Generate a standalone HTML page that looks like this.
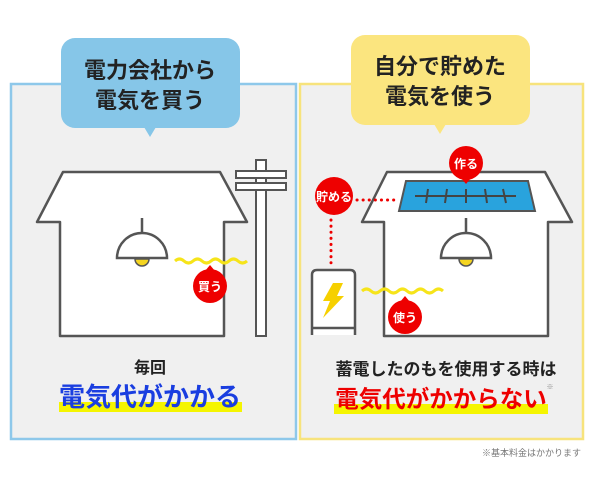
<!DOCTYPE html>
<html><head><meta charset="utf-8"><style>
body{margin:0;width:602px;height:475px;background:#fff;overflow:hidden;font-family:"Liberation Sans","Noto Sans CJK JP",sans-serif}
</style></head><body>
<svg width="602" height="475" viewBox="0 0 602 475" xmlns="http://www.w3.org/2000/svg" font-family="Liberation Sans, Noto Sans CJK JP, sans-serif">
<rect x="11" y="84" width="285" height="355" fill="#f0f0f0" stroke="#8ec8ea" stroke-width="2.5"/>
<rect x="300" y="84" width="283" height="355" fill="#f0f0f0" stroke="#f7e37c" stroke-width="2.5"/>
<rect x="61" y="38" width="179" height="90" rx="14" fill="#86c6e8"/>
<polygon points="144,127 156,127 150,137" fill="#86c6e8"/>
<text x="150" y="78" font-size="22" text-anchor="middle" fill="#222" font-weight="bold">電力会社から</text>
<text x="150" y="108" font-size="22" text-anchor="middle" fill="#222" font-weight="bold">電気を買う</text>
<rect x="351" y="35" width="179" height="90" rx="14" fill="#fbe57f"/>
<polygon points="434,124 446,124 440,134" fill="#fbe57f"/>
<text x="440" y="74" font-size="22" text-anchor="middle" fill="#222" font-weight="bold">自分で貯めた</text>
<text x="440" y="104" font-size="22" text-anchor="middle" fill="#222" font-weight="bold">電気を使う</text>
<path d="M60,336 V222 H37 L63,172 H220 L247,222 H224 V336 Z" fill="#fff" stroke="#555" stroke-width="2.5" stroke-linejoin="round"/>
<rect x="256" y="160" width="10" height="176" fill="#fff" stroke="#555" stroke-width="2"/>
<rect x="236" y="171" width="50" height="7" fill="#fff" stroke="#555" stroke-width="2"/>
<rect x="236" y="183" width="50" height="7" fill="#fff" stroke="#555" stroke-width="2"/>
<line x1="142" y1="218" x2="142" y2="240" stroke="#555" stroke-width="2.5"/>
<path d="M117,258 A25,25 0 0 1 167,258 Z" fill="#fff" stroke="#555" stroke-width="2.5"/>
<path d="M135,259 A7,7 0 0 0 149,259 Z" fill="#f5d520" stroke="#555" stroke-width="1.5"/>
<path d="M175,261 q4.5,-4 9,0 t9,0 t9,0 t9,0 t9,0 t9,0 t9,0 t9,0" fill="none" stroke="#f6e41a" stroke-width="3"/>
<circle cx="210" cy="286" r="17" fill="#e00" /><polygon points="205,271 215,271 210,265" fill="#e00"/>
<text x="210" y="291" font-size="12" fill="#fff" text-anchor="middle" font-weight="bold">買う</text>
<text x="150" y="373" font-size="16" text-anchor="middle" fill="#222" font-weight="bold">毎回</text>
<rect x="59" y="402" width="183" height="10" fill="#f5f500"/>
<text x="150" y="406" font-size="26" text-anchor="middle" fill="#1a3ee0" font-weight="bold">電気代がかかる</text>
<path d="M384,336 V222 H362 L387,172 H545 L572,222 H548 V336 Z" fill="#fff" stroke="#555" stroke-width="2.5" stroke-linejoin="round"/>
<polygon points="406,181 528,181 535,211 399,211" fill="#29a3dd" stroke="#555" stroke-width="2"/>
<line x1="415" y1="196" x2="516" y2="196" stroke="#444" stroke-width="2"/>
<g stroke="#444" stroke-width="2"><line x1="428" y1="189" x2="426" y2="203"/><line x1="447" y1="189" x2="445" y2="203"/><line x1="466" y1="189" x2="466" y2="203"/><line x1="485" y1="189" x2="487" y2="203"/><line x1="503" y1="189" x2="506" y2="203"/></g>
<circle cx="466" cy="163" r="17" fill="#e00"/><polygon points="461,178 471,178 466,184" fill="#e00"/>
<text x="466" y="168" font-size="12" fill="#fff" text-anchor="middle" font-weight="bold">作る</text>
<line x1="357" y1="200" x2="396" y2="200" stroke="#e00" stroke-width="3" stroke-dasharray="0.1 6" stroke-linecap="round"/>
<line x1="331" y1="220" x2="331" y2="265" stroke="#e00" stroke-width="3" stroke-dasharray="0.1 6" stroke-linecap="round"/>
<circle cx="334" cy="196" r="19" fill="#e00"/>
<text x="334" y="201" font-size="12" fill="#fff" text-anchor="middle" font-weight="bold">貯める</text>
<path d="M312,335 V275 q0,-5 5,-5 H350 q5,0 5,5 V335 M312,328 H355" fill="#fff" stroke="#555" stroke-width="2.5"/>
<polygon points="333,283 343,283 337,296 344,296 323,318 330,301 323,301" fill="#f6d000"/>
<path d="M362,291 q4.5,-4 9,0 t9,0 t9,0 t9,0 t9,0 t9,0 t9,0 t9,0 t9,0" fill="none" stroke="#f6e41a" stroke-width="3"/>
<circle cx="405" cy="317" r="17" fill="#e00"/><polygon points="400,302 410,302 405,296" fill="#e00"/>
<text x="405" y="322" font-size="12" fill="#fff" text-anchor="middle" font-weight="bold">使う</text>
<line x1="466" y1="218" x2="466" y2="240" stroke="#555" stroke-width="2.5"/>
<path d="M441,258 A25,25 0 0 1 491,258 Z" fill="#fff" stroke="#555" stroke-width="2.5"/>
<path d="M459,259 A7,7 0 0 0 473,259 Z" fill="#f5d520" stroke="#555" stroke-width="1.5"/>
<text x="446" y="375" font-size="17" text-anchor="middle" fill="#222" font-weight="bold">蓄電したのもを使用する時は</text>
<rect x="334" y="404" width="214" height="10" fill="#f5f500"/>
<text x="441" y="407" font-size="23.5" text-anchor="middle" fill="#e00" font-weight="bold">電気代がかからない</text>
<text x="550" y="389" font-size="7" fill="#888" text-anchor="middle">※</text>
<text x="581" y="456" font-size="9" fill="#777" text-anchor="end">※基本料金はかかります</text>
</svg>
</body></html>
